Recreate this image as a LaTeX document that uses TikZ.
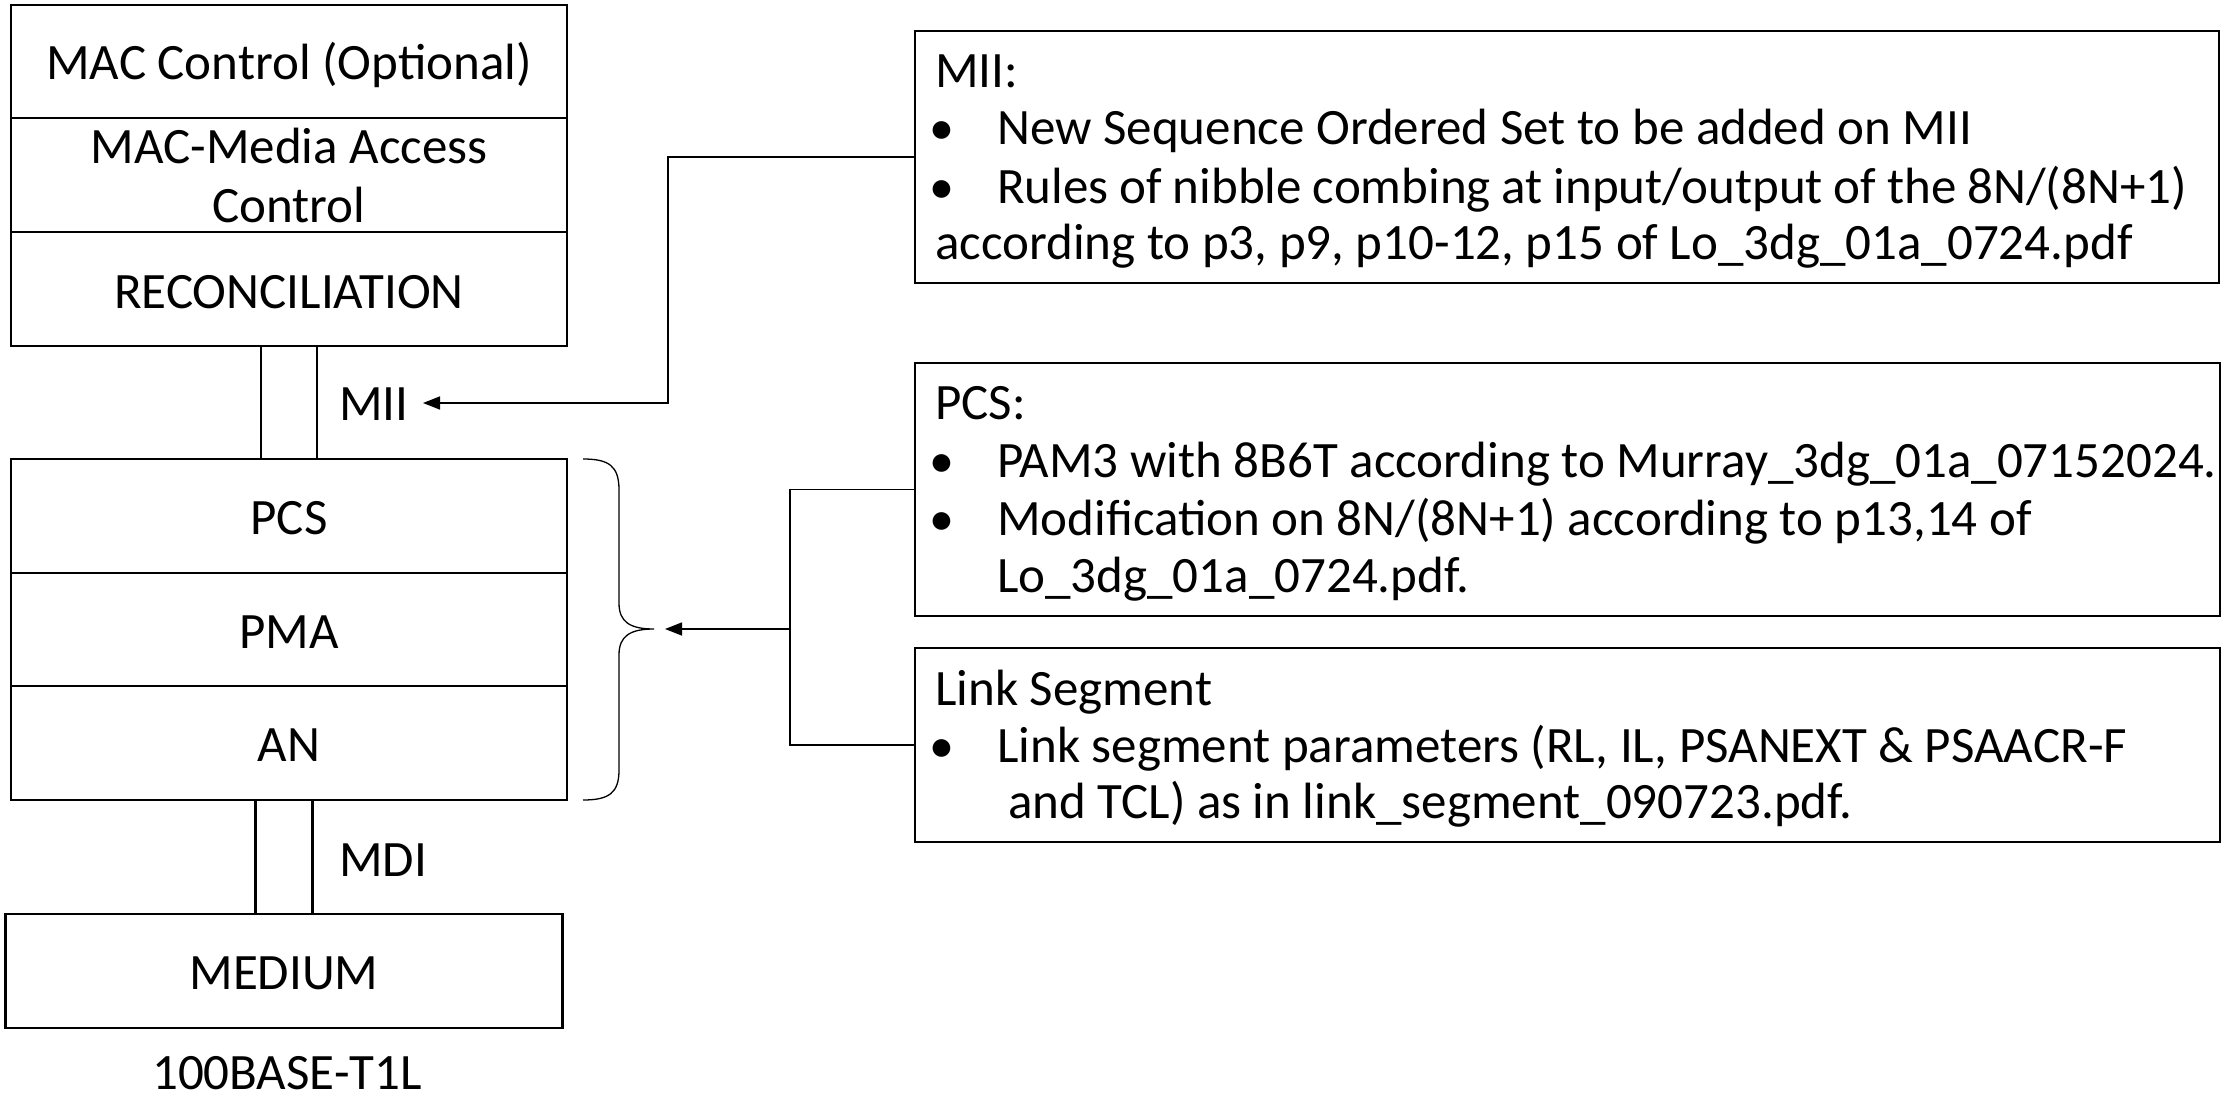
\documentclass[tikz,border=0pt]{standalone}
\usepackage{fontspec}
\setmainfont{Carlito}
\usetikzlibrary{arrows.meta}
\begin{document}
\begin{tikzpicture}[x=1pt,y=-1pt,
  layer/.style={draw,line width=2.6pt,inner sep=0pt},
  note/.style={draw,line width=2.2pt,inner sep=0pt},
  ltxt/.style={anchor=base,inner sep=0pt,font=\fontsize{51}{56}\selectfont},
  txt/.style={anchor=base west,inner sep=0pt,font=\fontsize{51}{56}\selectfont},
  bul/.style={anchor=base west,inner sep=0pt,font=\fontsize{50}{56}\selectfont},
  conn/.style={draw,line width=1.5pt},
  tip/.style={-{Triangle[length=17pt,width=13pt]}}]
\useasboundingbox (0,0) rectangle (2224,1097);
% left stack boxes
\node[layer,minimum width=556pt,minimum height=113pt] (macc) at (289,61.4) {};
\node[layer,minimum width=556pt,minimum height=114pt] (mac) at (289,175) {};
\node[layer,minimum width=556pt,minimum height=114pt] (rs) at (289,289) {};
\node[layer,minimum width=56pt,minimum height=113pt] (miiconn) at (289,402.5) {};
\node[layer,minimum width=556pt,minimum height=114pt] (pcs) at (289,516) {};
\node[layer,minimum width=556pt,minimum height=113pt] (pma) at (289,629.5) {};
\node[layer,minimum width=556pt,minimum height=114pt] (an) at (289,743) {};
\node[layer,minimum width=56.5pt,minimum height=114pt] (mdiconn) at (284,857) {};
\node[layer,minimum width=557pt,minimum height=114pt] (medium) at (284,971) {};
% left stack texts
\node[ltxt] (tmacc) at (289,80) {MAC Control (Optional)};
\node[ltxt] (tmac1) at (289,164) {MAC-Media Access};
\node[ltxt] (tmac2) at (289,222) {Control};
\node[ltxt] (trs) at (289,308) {RECONCILIATION};
\node[ltxt] (tpcs) at (289,534) {PCS};
\node[ltxt] (tpma) at (289,648) {PMA};
\node[ltxt] (tan) at (289,761) {AN};
\node[ltxt] (tmed) at (284,989) {MEDIUM};
\node[ltxt,anchor=base west] (miilbl) at (339,420) {MII};
\node[ltxt,anchor=base west] (mdilbl) at (339,876) {MDI};
\node[ltxt,text depth=0pt] (phy) at (287,1089) {100BASE-T1L};
% brace
\draw[line width=1.3pt] (583,459) .. controls (609,459) and (619,466) .. (619,490)
  -- (619,603) .. controls (619,622) and (630,629) .. (654,629)
  .. controls (630,629) and (619,636) .. (619,655)
  -- (619,770) .. controls (619,793) and (609,800) .. (583,800);
% right boxes
\node[note,minimum width=1304pt,minimum height=252pt] (miibox) at (1567,157) {};
\node[note,minimum width=1305pt,minimum height=253pt] (pcsbox) at (1567.5,489.5) {};
\node[note,minimum width=1305pt,minimum height=194pt] (linkbox) at (1567.5,745) {};
% MII text
\node[txt] (m0) at (935,88) {MII:};
\node[bul] (mb1) at (929,145) {\textbullet};
\node[txt] (m1) at (997,145) {New Sequence Ordered Set to be added on MII};
\node[bul] (mb2) at (929,203) {\textbullet};
\node[txt] (m2) at (997,203) {\makebox[1190pt][s]{Rules of nibble combing at input/output of the 8N/(8N+1)}};
\node[txt] (m3) at (935,259) {according to p3, p9, p10-12, p15 of Lo\_3dg\_01a\_0724.pdf};
% PCS text
\node[txt] (p0) at (935,419) {PCS:};
\node[bul] (pb1) at (929,477) {\textbullet};
\node[txt] (p1) at (997,477) {PAM3 with 8B6T according to Murray\_3dg\_01a\_07152024.};
\node[bul] (pb2) at (929,535) {\textbullet};
\node[txt] (p2) at (997,535) {Modification on 8N/(8N+1) according to p13,14 of};
\node[txt] (p3) at (997,592) {Lo\_3dg\_01a\_0724.pdf.};
% Link text
\node[txt] (l0) at (935,705) {Link Segment};
\node[bul] (lb1) at (929,762) {\textbullet};
\node[txt] (l1) at (997,762) {Link segment parameters (RL, IL, PSANEXT \& PSAACR-F};
\node[txt] (l2) at (1008,818) {and TCL) as in link\_segment\_090723.pdf.};
% connectors
\coordinate (miitip) at (423,403);
\coordinate (jn) at (790,629);
\coordinate (bracetip) at (665,629);
\draw[conn,tip] (miibox.west) -- (668,157) |- (miitip);
\draw[conn] (pcsbox.west) -| (jn);
\draw[conn] (linkbox.west) -| (jn);
\draw[conn,tip] (jn) -- (bracetip);
\end{tikzpicture}
\end{document}
